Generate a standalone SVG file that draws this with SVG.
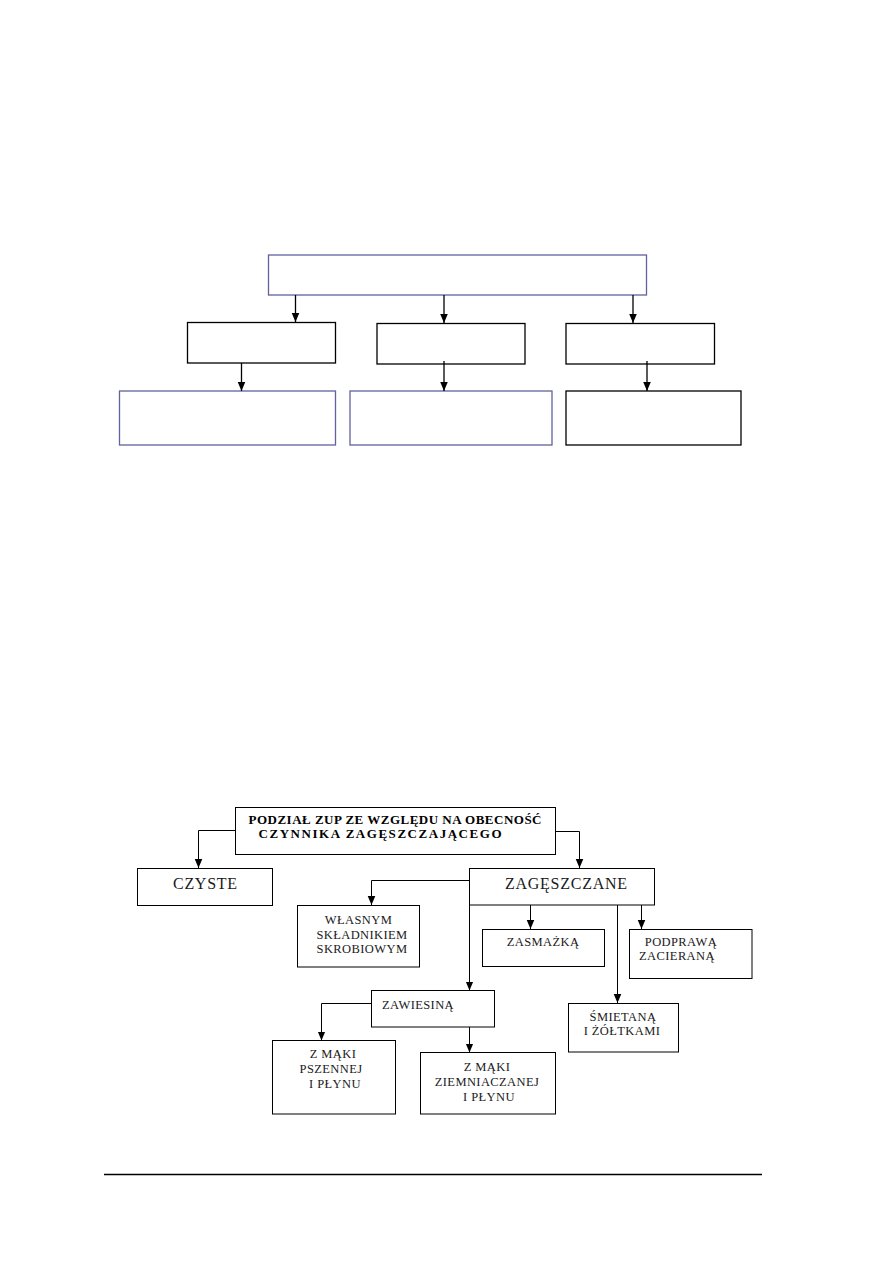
<svg xmlns="http://www.w3.org/2000/svg" width="893" height="1263" viewBox="0 0 893 1263">
<style>
  .bg{fill:#ffffff}
  .box{fill:#ffffff;stroke:#000000;stroke-width:1}
  .boxt{fill:#ffffff;stroke:#000000;stroke-width:1.3}
  .boxb{fill:#ffffff;stroke:#62609e;stroke-width:1.3}
  .ln{fill:none;stroke:#000000;stroke-width:1}
  .lnt{fill:none;stroke:#000000;stroke-width:1.3}
  .t{font-family:"Liberation Serif","Times New Roman",serif;font-size:12.5px;fill:#1a1a1a;text-anchor:middle;letter-spacing:0.4px}
  .tb{font-family:"Liberation Serif","Times New Roman",serif;font-size:13px;font-weight:bold;fill:#000000;text-anchor:middle}
  .tl{font-family:"Liberation Serif","Times New Roman",serif;font-size:16px;fill:#1a1a1a}
</style>
<defs>
  <marker id="ah" viewBox="0 0 10 10" refX="10" refY="5" markerWidth="9" markerHeight="9" markerUnits="userSpaceOnUse" orient="auto">
    <path d="M0,0.8 L10,5 L0,9.2 z" fill="#000000"/>
  </marker>
</defs>
<rect class="bg" x="0" y="0" width="893" height="1263"/>

<!-- Top (empty) chart -->
<g id="top-root"><rect class="boxb" x="268.5" y="255" width="378" height="40"/></g>
<g id="top-mid1"><rect class="boxt" x="187.5" y="322.5" width="148" height="40.5"/></g>
<g id="top-mid2"><rect class="boxt" x="377" y="323.5" width="148" height="40.5"/></g>
<g id="top-mid3"><rect class="boxt" x="566" y="323.5" width="148.5" height="40.5"/></g>
<g id="top-bot1"><rect class="boxb" x="119.5" y="391" width="216" height="54"/></g>
<g id="top-bot2"><rect class="boxb" x="350" y="391" width="202" height="54"/></g>
<g id="top-bot3"><rect class="boxt" x="566" y="391" width="175" height="54"/></g>

<g id="top-connectors">
  <line class="lnt" x1="295.5" y1="295" x2="295.5" y2="322" marker-end="url(#ah)"/>
  <line class="lnt" x1="444" y1="295" x2="444" y2="323" marker-end="url(#ah)"/>
  <line class="lnt" x1="633" y1="295" x2="633" y2="323" marker-end="url(#ah)"/>
  <line class="lnt" x1="241.5" y1="363" x2="241.5" y2="391" marker-end="url(#ah)"/>
  <line class="lnt" x1="444" y1="361" x2="444" y2="391" marker-end="url(#ah)"/>
  <line class="lnt" x1="647" y1="361" x2="647" y2="391" marker-end="url(#ah)"/>
</g>

<!-- Bottom chart -->
<g id="connectors">
  <polyline class="ln" points="235.5,830.5 198.5,830.5 198.5,868" marker-end="url(#ah)"/>
  <polyline class="ln" points="555.5,831.5 579.5,831.5 579.5,868" marker-end="url(#ah)"/>
  <polyline class="ln" points="469.5,880.5 371.5,880.5 371.5,905" marker-end="url(#ah)"/>
  <line class="ln" x1="469.5" y1="905" x2="469.5" y2="990.5" marker-end="url(#ah)"/>
  <line class="ln" x1="530.5" y1="905" x2="530.5" y2="929" marker-end="url(#ah)"/>
  <line class="ln" x1="617.5" y1="905" x2="617.5" y2="1003" marker-end="url(#ah)"/>
  <line class="ln" x1="641.5" y1="905" x2="641.5" y2="929" marker-end="url(#ah)"/>
  <polyline class="ln" points="371.5,1003.5 321.5,1003.5 321.5,1040.5" marker-end="url(#ah)"/>
  <line class="ln" x1="469.5" y1="1027" x2="469.5" y2="1052.5" marker-end="url(#ah)"/>
</g>

<g id="n-podzial">
  <rect class="box" x="235.5" y="807.5" width="320" height="47"/>
  <text class="tb" x="395" y="824" textLength="293" lengthAdjust="spacing">PODZIAŁ ZUP ZE WZGLĘDU NA OBECNOŚĆ</text>
  <text class="tb" x="380" y="838" textLength="243" lengthAdjust="spacing">CZYNNIKA ZAGĘSZCZAJĄCEGO</text>
</g>
<g id="n-czyste">
  <rect class="box" x="137.5" y="868.5" width="135" height="37"/>
  <text class="tl" x="173" y="888.5" textLength="64" lengthAdjust="spacing">CZYSTE</text>
</g>
<g id="n-zageszczane">
  <rect class="box" x="469.5" y="868.5" width="185" height="36.5"/>
  <text class="tl" x="505" y="888.5" textLength="122" lengthAdjust="spacing">ZAGĘSZCZANE</text>
</g>
<g id="n-wlasnym">
  <rect class="box" x="297.5" y="905.5" width="122" height="61.5"/>
  <text class="t" x="358.5" y="924">WŁASNYM</text>
  <text class="t" x="362" y="938.5">SKŁADNIKIEM</text>
  <text class="t" x="362" y="953">SKROBIOWYM</text>
</g>
<g id="n-zasmazka">
  <rect class="box" x="482.5" y="929.5" width="122" height="37"/>
  <text class="t" x="543" y="946">ZASMAŻKĄ</text>
</g>
<g id="n-podprawa">
  <rect class="box" x="629.5" y="929.5" width="122.5" height="49"/>
  <text class="t" x="681" y="945.5">PODPRAWĄ</text>
  <text class="t" x="677" y="960">ZACIERANĄ</text>
</g>
<g id="n-zawiesina">
  <rect class="box" x="371.5" y="990.5" width="123" height="36.5"/>
  <text class="t" x="382" y="1009" style="text-anchor:start">ZAWIESINĄ</text>
</g>
<g id="n-smietana">
  <rect class="box" x="568.5" y="1003.5" width="110" height="48.5"/>
  <text class="t" x="623" y="1020.5">ŚMIETANĄ</text>
  <text class="t" x="622" y="1035">I ŻÓŁTKAMI</text>
</g>
<g id="n-pszennej">
  <rect class="box" x="272.5" y="1040.5" width="123" height="73.5"/>
  <text class="t" x="333" y="1058">Z MĄKI</text>
  <text class="t" x="331" y="1073">PSZENNEJ</text>
  <text class="t" x="335" y="1088">I PŁYNU</text>
</g>
<g id="n-ziemniaczanej">
  <rect class="box" x="420.5" y="1052.5" width="135" height="61.5"/>
  <text class="t" x="487" y="1071">Z MĄKI</text>
  <text class="t" x="487" y="1086">ZIEMNIACZANEJ</text>
  <text class="t" x="489" y="1101">I PŁYNU</text>
</g>

<line id="footer-rule" x1="104" y1="1174.5" x2="762" y2="1174.5" stroke="#000000" stroke-width="1.5"/>
</svg>
